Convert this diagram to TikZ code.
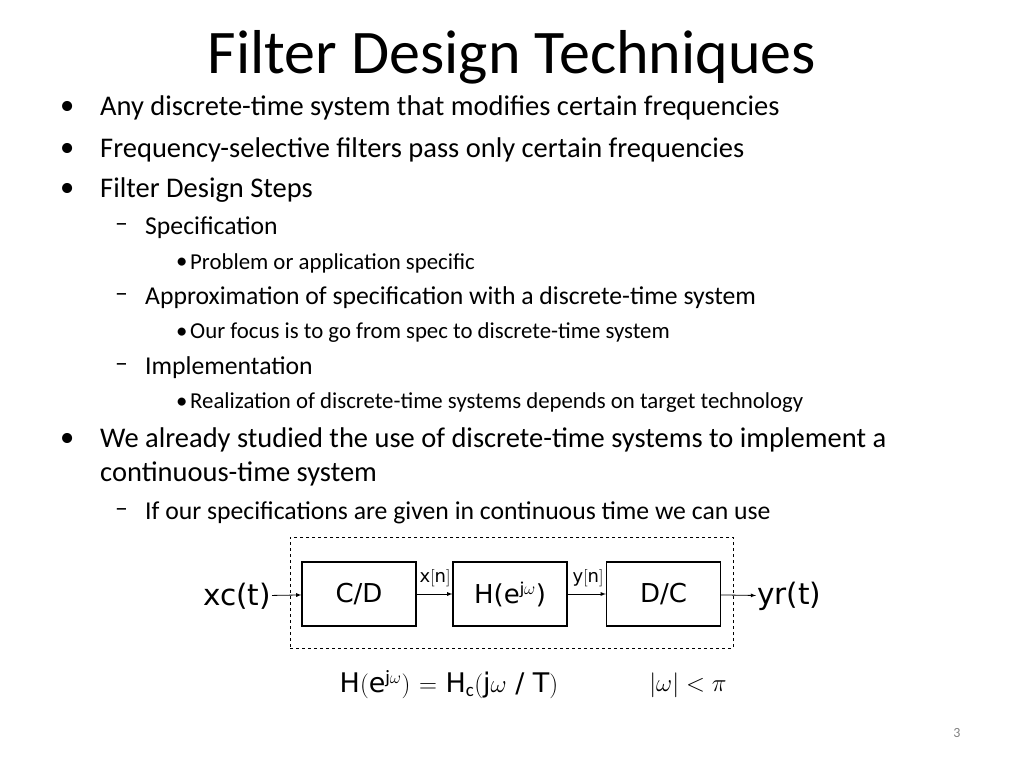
\documentclass[tikz,border=0pt]{standalone}
\usepackage{fontspec}
\setmainfont{Carlito}
\newfontfamily\diag{DejaVu Sans}
\begin{document}
\begin{tikzpicture}[x=1pt,y=-1pt,
  lone/.style={anchor=west,font=\fontsize{28.5}{32}\selectfont,inner sep=0},
  ltwo/.style={anchor=west,font=\fontsize{25.7}{29}\selectfont,inner sep=0},
  lthree/.style={anchor=west,font=\fontsize{22.8}{26}\selectfont,inner sep=0},
  blk/.style={draw,line width=1.2pt,minimum width=114pt,minimum height=64pt,font=\diag\fontsize{26}{30}\selectfont},
  sig/.style={font=\diag\fontsize{18}{21}\selectfont,inner sep=1pt},
  arr/.style={-latex,line width=0.8pt}]
\useasboundingbox (0,0) rectangle (1024,768);
\node (title) at (512,57) {\fontsize{62}{66}\selectfont Filter Design Techniques};
\foreach \y in {108,150,190,440} \node[lone] at (60,\y) {•};
\node[lone] (a) at (100,108) {Any discrete-time system that modifies certain frequencies};
\node[lone] (b) at (100,150) {Frequency-selective filters pass only certain frequencies};
\node[lone] (c) at (100,190) {Filter Design Steps};
\foreach \y in {228,298,368,513} \node[ltwo] at (115,\y) {–};
\node[ltwo] (d) at (145,228) {Specification};
\node[ltwo] (e) at (145,298) {Approximation of specification with a discrete-time system};
\node[ltwo] (f) at (145,368) {Implementation};
\foreach \y in {263,333,403} \node[lthree] at (176,\y) {•};
\node[lthree] (g) at (190,263) {Problem or application specific};
\node[lthree] (h) at (190,333) {Our focus is to go from spec to discrete-time system};
\node[lthree] (i) at (190,403) {Realization of discrete-time systems depends on target technology};
\node[lone] (j) at (100,440) {We already studied the use of discrete-time systems to implement a};
\node[lone] (k) at (100,474) {continuous-time system};
\node[ltwo] (l) at (145,513) {If our specifications are given in continuous time we can use};

\node[draw,dashed,line width=0.6pt,minimum width=443pt,minimum height=111pt] (dash) at (511.5,592.5) {};
\node[blk] (cd) at (359,594) {C/D};
\node[blk] (hb) at (510,594) {H(e$^{\mathrm{j}\omega}$)};
\node[blk] (dc) at (663.5,594) {D/C};
\node[anchor=east,inner sep=1pt,font=\diag\fontsize{29.5}{33}\selectfont] (xc) at (272,596) {xc(t)};
\node[anchor=west,inner sep=1pt,font=\diag\fontsize{29.5}{33}\selectfont] (yr) at (756,596) {yr(t)};
\draw[arr] (xc) -- (cd);
\draw[arr] (cd) -- (hb);
\draw[arr] (hb) -- (dc);
\draw[arr] (dc) -- (yr);
\node[sig] (xn) at (435,578) {x$\big[$n$\big]$};
\node[sig] (yn) at (588,578) {y$\big[$n$\big]$};
\node[font=\diag\fontsize{27}{30}\selectfont] (eq) at (449,685) {H$\Bigl($e$^{\mathrm{j}\omega}\Bigr)$ $=$ H$_{\mathrm{c}}\Bigl($j$\omega$ / T$\Bigr)$};
\node[font=\diag\fontsize{27}{30}\selectfont] (cond) at (688,685) {$\Bigl|\omega\Bigr| < \pi$};
\node[text=gray,font=\fontsize{14}{16}\selectfont] (pg) at (957,733) {3};
\end{tikzpicture}
\end{document}
